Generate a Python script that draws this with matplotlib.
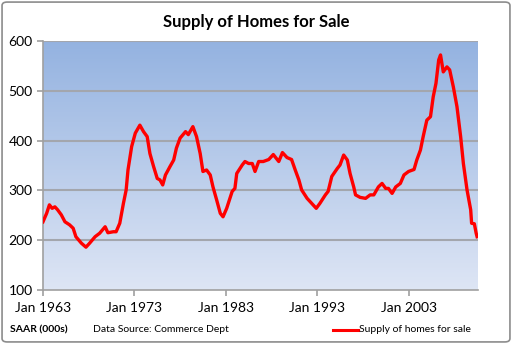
import numpy as np
import matplotlib
matplotlib.use('Agg')
import matplotlib.pyplot as plt
from matplotlib.patches import FancyBboxPatch
from matplotlib.lines import Line2D

plt.rcParams['font.family'] = ['Lato', 'DejaVu Sans']

# decimal years and supply of homes for sale (SAAR, 000s)
years = [1963.0, 1963.4, 1963.7, 1964.0, 1964.3, 1964.6, 1965.0, 1965.4, 1965.9, 1966.3,
         1966.6, 1967.2, 1967.7, 1968.1, 1968.7, 1969.2, 1969.8, 1970.1, 1970.7, 1971.0,
         1971.4, 1971.8, 1972.1, 1972.3, 1972.7, 1973.1, 1973.6, 1974.0, 1974.4, 1974.7,
         1975.1, 1975.5, 1975.8, 1976.1, 1976.4, 1976.9, 1977.3, 1977.6, 1978.0, 1978.6,
         1978.9, 1979.4, 1979.8, 1980.2, 1980.5, 1980.9, 1981.3, 1981.6, 1982.0, 1982.4,
         1982.7, 1983.1, 1983.7, 1984.0, 1984.2, 1984.8, 1985.1, 1985.5, 1985.9, 1986.2,
         1986.6, 1987.1, 1987.7, 1988.2, 1988.8, 1989.2, 1989.7, 1990.2, 1990.6, 1991.0,
         1991.3, 1991.9, 1992.4, 1992.9, 1993.3, 1993.9, 1994.2, 1994.6, 1995.2, 1995.5,
         1995.9, 1996.3, 1996.6, 1997.0, 1997.2, 1997.7, 1998.3, 1998.8, 1999.2, 1999.7,
         2000.1, 2000.5, 2000.8, 2001.2, 2001.6, 2002.1, 2002.5, 2003.0, 2003.6, 2003.9,
         2004.3, 2004.6, 2005.0, 2005.4, 2005.7, 2006.0, 2006.3, 2006.5, 2006.8, 2007.2,
         2007.5, 2007.9, 2008.3, 2008.7, 2009.0, 2009.4, 2009.8, 2009.9, 2010.2, 2010.4,
         2010.5]
supply = [237, 254, 271, 264, 267, 261, 251, 237, 231, 224,
          207, 194, 186, 194, 207, 214, 227, 215, 217, 217,
          234, 274, 301, 341, 388, 415, 431, 418, 408, 374,
          348, 324, 321, 311, 331, 348, 361, 385, 405, 418,
          412, 428, 408, 374, 338, 341, 331, 307, 281, 254,
          247, 264, 298, 304, 334, 351, 358, 354, 354, 338,
          358, 358, 362, 372, 358, 376, 366, 362, 341, 321,
          301, 284, 274, 264, 274, 291, 298, 328, 344, 351,
          371, 361, 334, 307, 291, 286, 284, 291, 291, 307,
          314, 304, 304, 294, 307, 314, 331, 338, 342, 361,
          381, 408, 441, 448, 488, 515, 562, 572, 538, 548,
          542, 508, 468, 408, 354, 301, 261, 234, 233, 214,
          207]
tick_years = [1963, 1973, 1983, 1993, 2003]
tick_labels = ['Jan 1963', 'Jan 1973', 'Jan 1983', 'Jan 1993', 'Jan 2003']

fig = plt.figure(figsize=(5.12, 3.44), dpi=100)
fig.patch.set_facecolor('white')
# outer frame
fig.patches.append(FancyBboxPatch((0.004, 0.006), 0.992, 0.988, boxstyle='round,pad=0,rounding_size=0.01',
                                  transform=fig.transFigure, fill=False, ec='#8c8c8c', lw=1.2))

ax = fig.add_axes([43 / 512, 1 - 290 / 344, 435 / 512, 249 / 344])
xmin, xmax = 1963.0, 2010.6
ax.set_xlim(xmin, xmax)
ax.set_ylim(100, 600)

# gradient background
grad = np.linspace(0, 1, 256).reshape(-1, 1)
top = np.array([0.58, 0.70, 0.88])
bot = np.array([0.87, 0.90, 0.96])
img = top * (1 - grad[..., None]) + bot * grad[..., None]
img = img.reshape(256, 1, 3)
ax.imshow(img, extent=[xmin, xmax, 100, 600], aspect='auto', zorder=0, origin='upper')

for v in [200, 300, 400, 500, 600]:
    ax.axhline(v, color='#a3a6ad', lw=1.5, zorder=1)

ax.plot(years, supply, color='#ff0000', lw=2.4, zorder=3, solid_joinstyle='round')

ax.set_xticks(tick_years)
ax.set_xticklabels(tick_labels)
ax.set_yticks([100, 200, 300, 400, 500, 600])
ax.tick_params(axis='both', colors='#a0a0a0', labelcolor='black', labelsize=10, length=4, width=1.2)
ax.tick_params(axis='x', pad=5)
for s in ['top', 'right']:
    ax.spines[s].set_visible(False)
for s in ['left', 'bottom']:
    ax.spines[s].set_color('#a0a0a0')
    ax.spines[s].set_linewidth(1.2)

fig.text(0.5, 1 - 22 / 344, 'Supply of Homes for Sale', ha='center', va='center',
         fontsize=12, fontweight='bold')
fig.text(10 / 512, 1 - 330 / 344, 'SAAR (000s)', ha='left', va='center', fontsize=7.5, fontweight='bold')
fig.text(93 / 512, 1 - 330 / 344, 'Data Source: Commerce Dept', ha='left', va='center', fontsize=7.5)
fig.add_artist(Line2D([333 / 512, 358 / 512], [1 - 330 / 344, 1 - 330 / 344],
                      transform=fig.transFigure, color='#ff0000', lw=2.2))
fig.text(359 / 512, 1 - 330 / 344, 'Supply of homes for sale', ha='left', va='center', fontsize=7.5)

fig.savefig('out.png', dpi=100)
